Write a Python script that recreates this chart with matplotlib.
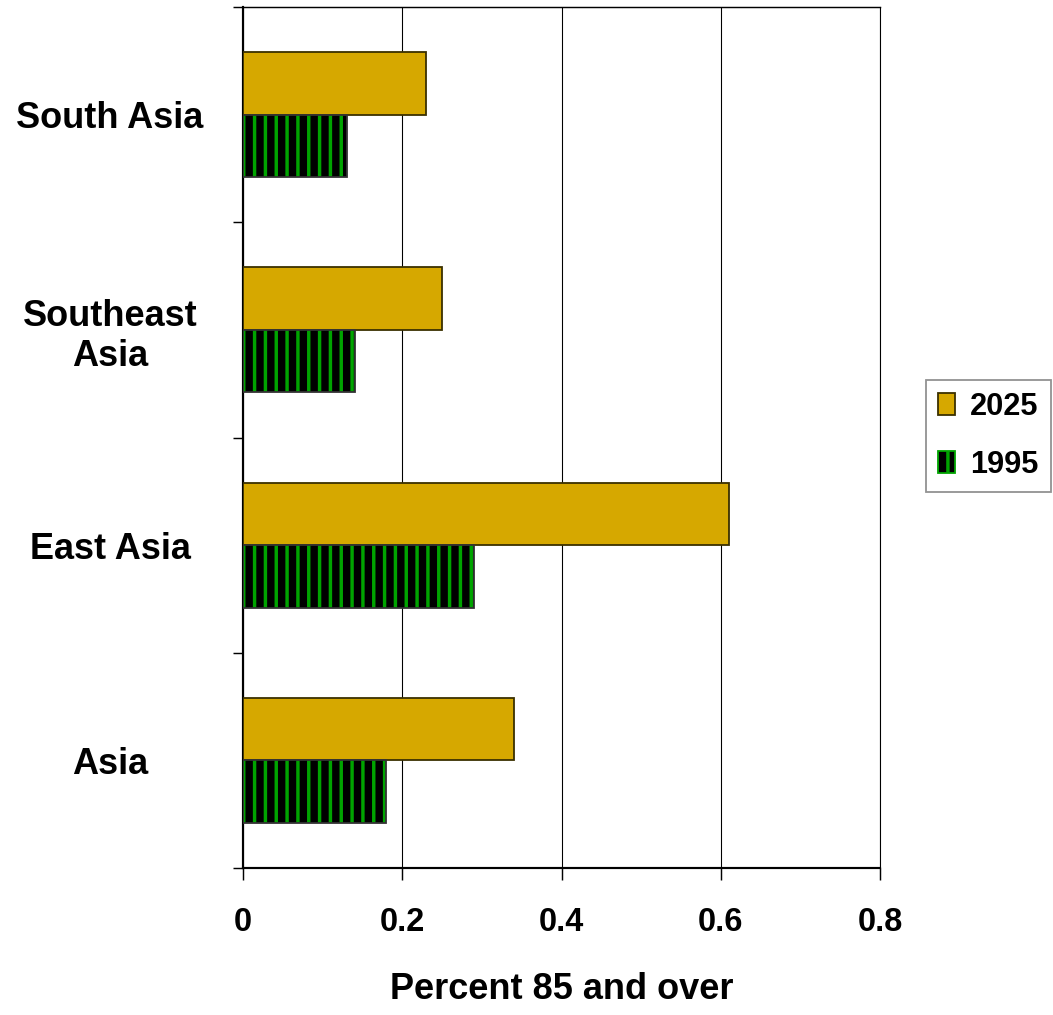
import matplotlib
matplotlib.use('Agg')
import matplotlib.pyplot as plt
import numpy as np
from matplotlib.patches import Patch

plt.rcParams['font.family'] = ['Liberation Sans', 'DejaVu Sans']
plt.rcParams['font.weight'] = 'bold'
plt.rcParams['hatch.linewidth'] = 1.9

regions = ['Asia', 'East Asia', 'Southeast\nAsia', 'South Asia']
pct_2025 = [0.34, 0.61, 0.25, 0.23]
pct_1995 = [0.18, 0.29, 0.14, 0.13]
xticks = [0, 0.2, 0.4, 0.6, 0.8]

gold = '#d6a800'
green = '#00a400'

fig = plt.figure(figsize=(1053 / 130, 1015 / 130), dpi=130)
ax = fig.add_axes([0.2308, 0.1448, 0.6049, 0.8483])

y = np.arange(len(regions))
h = 0.29

ax.barh(y + h / 2, pct_2025, height=h, color=gold, edgecolor='#3a3000',
        linewidth=1.0, zorder=3)
# striped 1995 bars: black fill with green vertical hatch, outline drawn on top
ax.barh(y - h / 2, pct_1995, height=h, color='black', edgecolor=green,
        hatch='||', linewidth=0, zorder=3)
ax.barh(y - h / 2, pct_1995, height=h, fill=False, edgecolor='#333333',
        linewidth=1.0, zorder=4)

ax.set_xlim(0, 0.8)
ax.set_ylim(-0.5, 3.5)

ax.set_xticks(xticks)
ax.set_xticklabels([f'{v:g}' for v in xticks])
ax.tick_params(axis='x', length=6.5, width=0.8, pad=15, labelsize=18)

ax.set_yticks(y)
ax.set_yticklabels(regions, multialignment='center')
ax.set_yticks(np.arange(-0.5, 4, 1), minor=True)
ax.tick_params(axis='y', which='major', length=0, pad=20, labelsize=20)
ax.tick_params(axis='y', which='minor', length=5.5, width=0.8)
for lab in ax.get_yticklabels():
    lab.set_horizontalalignment('center')
    lab.set_x(-0.152)

ax.xaxis.grid(True, color='black', linewidth=0.6, zorder=0)
ax.set_axisbelow(True)

ax.spines['left'].set_linewidth(1.2)
ax.spines['bottom'].set_linewidth(1.2)
ax.spines['top'].set_linewidth(0.8)
ax.spines['right'].set_linewidth(0.6)

ax.set_xlabel('Percent 85 and over', fontsize=20, fontweight='bold', labelpad=19)

handles = [Patch(facecolor=gold, edgecolor='#3a3000', label='2025'),
           Patch(facecolor='black', edgecolor=green, hatch='||', label='1995')]
leg = ax.legend(handles=handles, loc='center left', bbox_to_anchor=(1.072, 0.502),
                fontsize=17, frameon=True, fancybox=False, edgecolor='#777777',
                handlelength=0.55, handleheight=0.7, handletextpad=0.5,
                borderpad=0.4, labelspacing=0.9, borderaxespad=0)
leg.get_frame().set_linewidth(1.0)

fig.savefig('out.png', dpi=130)
